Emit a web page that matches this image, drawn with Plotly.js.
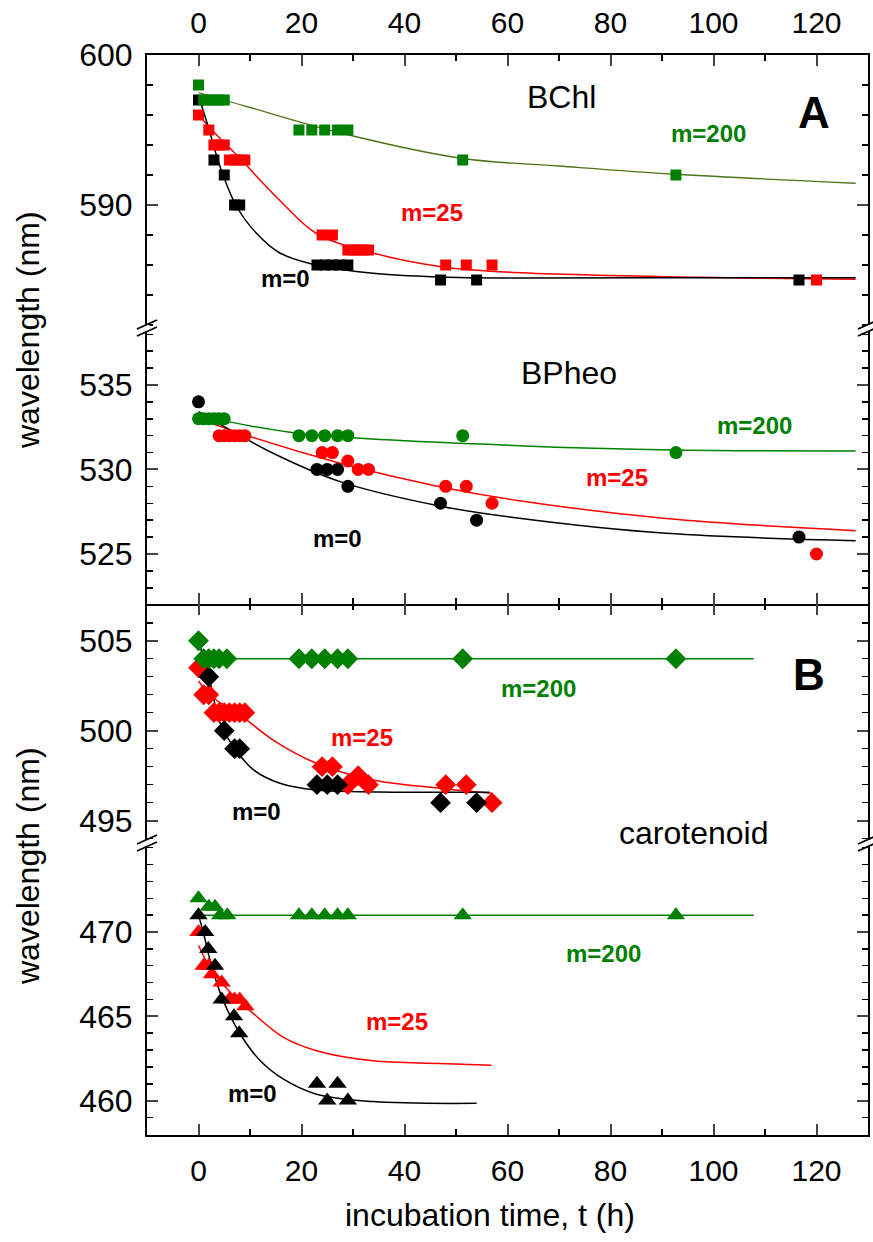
<!DOCTYPE html>
<html>
<head>
<meta charset="utf-8">
<script src="https://cdn.plot.ly/plotly-3.0.1.min.js"></script>
<style>html,body{margin:0;padding:0;background:#fff;}#chart{width:873px;height:1242px;}</style>
</head>
<body>
<div id="chart"></div>
<script>
// ---------- BChl (panel A, squares) ----------
const bchl_m0_t   = [0, 3, 5, 7, 8, 23, 24.5, 26, 27.5, 29, 47, 54, 116.6];
const bchl_m0_nm  = [597, 593, 592, 590, 590, 586, 586, 586, 586, 586, 585, 585, 585];
const bchl_m25_t  = [0, 2, 3, 4, 5, 6, 7, 8, 9, 24, 26, 29, 30, 31, 32, 33, 48, 52, 57, 120];
const bchl_m25_nm = [596, 595, 594, 594, 594, 593, 593, 593, 593, 588, 588, 587, 587, 587, 587, 587, 586, 586, 586, 585];
const bchl_m200_t = [0, 1, 2, 3, 4, 5, 19.5, 22, 24.5, 27, 29, 51.3, 92.7];
const bchl_m200_nm= [598, 597, 597, 597, 597, 597, 595, 595, 595, 595, 595, 593, 592];
// fitted curves
const bchl_fit0_t   = [0, 1.9, 4.2, 7.4, 11.3, 15.8, 22, 33.9, 46.8, 62.3, 90, 127.6];
const bchl_fit0_nm  = [597.3, 595.2, 592.55, 589.9, 588.1, 586.8, 586.07, 585.45, 585.2, 585.13, 585.15, 585.15];
const bchl_fit25_t  = [0, 4, 8.1, 11.3, 15.8, 22.9, 33.9, 46.8, 58.5, 97.2, 127.6];
const bchl_fit25_nm = [596, 594.5, 593.1, 591.9, 590.3, 588.1, 586.8, 585.9, 585.55, 585.18, 585.05];
const bchl_fit200_t = [0, 10, 28.8, 51.3, 70, 92.7, 127.6];
const bchl_fit200_nm= [597.5, 596.5, 594.7, 593.1, 592.6, 592.05, 591.45];

// ---------- BPheo (panel A, circles) ----------
const bph_m0_t   = [0, 23, 25, 27, 29, 47, 54, 116.6];
const bph_m0_nm  = [534, 530, 530, 530, 529, 528, 527, 526];
const bph_m25_t  = [4, 5, 6, 7, 8, 9, 24, 26, 29, 31, 33, 48, 52, 57, 120];
const bph_m25_nm = [532, 532, 532, 532, 532, 532, 531, 531, 530.5, 530, 530, 529, 529, 528, 525];
const bph_m200_t = [0, 1, 2, 3, 4, 5, 19.5, 22, 24.5, 27, 29, 51.3, 92.7];
const bph_m200_nm= [533, 533, 533, 533, 533, 533, 532, 532, 532, 532, 532, 532, 531];
const bph_fit0_t   = [0, 14.5, 27.5, 46.8, 62.3, 90.8, 127.6];
const bph_fit0_nm  = [533.42, 530.96, 529.28, 527.84, 527.11, 526.22, 525.79];
const bph_fit25_t  = [0, 8.1, 27.5, 46.8, 62.3, 90.8, 127.6];
const bph_fit25_nm = [533.03, 532.14, 530.37, 528.98, 528.15, 527.1, 526.38];
const bph_fit200_t = [0, 19.4, 62.3, 92.7, 127.6];
const bph_fit200_nm= [533.2, 532.14, 531.41, 531.15, 531.1];

// ---------- carotenoid (panel B, diamonds) ----------
const cd_m0_t   = [2, 5, 7, 8, 23, 25, 27, 47, 54];
const cd_m0_nm  = [503, 500, 499, 499, 497, 497, 497, 496, 496];
const cd_m25_t  = [0, 1, 2, 3, 4, 5, 6, 7, 8, 9, 24, 26, 29, 31, 33, 48, 52, 57];
const cd_m25_nm = [503.5, 502, 502, 501, 501, 501, 501, 501, 501, 501, 498, 498, 497, 497.5, 497, 497, 497, 496];
const cd_m200_t = [0, 1, 2, 3, 4, 5.5, 19.5, 22, 24.5, 27, 29, 51.3, 92.7];
const cd_m200_nm= [505, 504, 504, 504, 504, 504, 504, 504, 504, 504, 504, 504, 504];
const cd_fit0_t   = [0, 2.3, 4.2, 6.8, 10.7, 15.8, 22.9, 35, 56.5];
const cd_fit0_nm  = [505, 502.63, 500.41, 499.11, 497.82, 497.08, 496.7, 496.6, 496.58];
const cd_fit25_t  = [0, 2.6, 8.1, 14.5, 22.9, 33.9, 46.8, 56.9];
const cd_fit25_nm = [502.76, 501.89, 500.87, 499.48, 498.19, 497.26, 496.8, 496.52];
const cd_fit200_t = [0, 107.8];
const cd_fit200_nm= [504, 504];

// ---------- carotenoid (panel B, triangles) ----------
const ct_m0_t   = [0, 1.3, 1.9, 3.2, 4.5, 6.9, 7.9, 23, 25, 27, 29];
const ct_m0_nm  = [471, 470, 469, 468, 466, 465, 464, 461, 460, 461, 460];
const ct_m25_t  = [0, 1, 2, 2.6, 4.5, 6, 7, 8, 9.1];
const ct_m25_nm = [470, 468, 468, 467.5, 467, 466, 466, 466, 465.6];
const ct_m200_t = [0, 2, 3.2, 4.2, 5.6, 19.5, 22, 24.5, 27, 29, 51.3, 92.7];
const ct_m200_nm= [472, 471.5, 471.5, 471, 471, 471, 471, 471, 471, 471, 471, 471];
const ct_fit0_t   = [0, 1, 2.6, 4.8, 8.1, 12, 16.5, 22.9, 33.9, 54];
const ct_fit0_nm  = [471, 469.9, 467.92, 465.93, 463.95, 462.36, 461.27, 460.38, 459.94, 459.84];
const ct_fit25_t  = [0, 2.6, 5.5, 10, 16.5, 22.9, 33.9, 46.8, 56.9];
const ct_fit25_nm = [469.2, 467.7, 466.63, 465.34, 463.75, 462.96, 462.36, 462.2, 462.1];
const ct_fit200_t = [0, 107.8];
const ct_fit200_nm= [471, 471];

// tick labels
const xTickVals  = [0, 20, 40, 60, 80, 100, 120];
const yTicksBChl = [590, 600];
const yTicksBPh  = [525, 530, 535];
const yTicksCarD = [495, 500, 505];
const yTicksCarT = [460, 465, 470];

const GREEN = '#008000', RED = '#ff0000', BLACK = '#000000', OLIVE = '#4d7319';
const FONT = 'Liberation Sans, Arial, Helvetica, sans-serif';

function line(x, y, color, xa, ya, w) {
  return {x: x, y: y, mode: 'lines', type: 'scatter', xaxis: xa, yaxis: ya,
          line: {color: color, width: w || 1.5, shape: 'spline', smoothing: 1}, hoverinfo: 'skip', showlegend: false};
}
function pts(x, y, color, sym, size, xa, ya) {
  return {x: x, y: y, mode: 'markers', type: 'scatter', xaxis: xa, yaxis: ya,
          marker: {color: color, symbol: sym, size: size, line: {width: 0}}, showlegend: false, cliponaxis: false};
}

const traces = [
  line(bchl_fit200_t, bchl_fit200_nm, OLIVE, 'x', 'y', 1.3),
  line(bchl_fit25_t, bchl_fit25_nm, RED, 'x', 'y'),
  line(bchl_fit0_t, bchl_fit0_nm, BLACK, 'x', 'y'),
  pts(bchl_m0_t, bchl_m0_nm, BLACK, 'square', 11, 'x', 'y'),
  pts(bchl_m25_t, bchl_m25_nm, RED, 'square', 11, 'x', 'y'),
  pts(bchl_m200_t, bchl_m200_nm, GREEN, 'square', 11, 'x', 'y'),

  line(bph_fit200_t, bph_fit200_nm, GREEN, 'x2', 'y2'),
  line(bph_fit25_t, bph_fit25_nm, RED, 'x2', 'y2'),
  line(bph_fit0_t, bph_fit0_nm, BLACK, 'x2', 'y2'),
  pts(bph_m200_t, bph_m200_nm, GREEN, 'circle', 13, 'x2', 'y2'),
  pts(bph_m25_t, bph_m25_nm, RED, 'circle', 13, 'x2', 'y2'),
  pts(bph_m0_t, bph_m0_nm, BLACK, 'circle', 13, 'x2', 'y2'),

  line(cd_fit200_t, cd_fit200_nm, GREEN, 'x3', 'y3'),
  line(cd_fit25_t, cd_fit25_nm, RED, 'x3', 'y3'),
  line(cd_fit0_t, cd_fit0_nm, BLACK, 'x3', 'y3'),
  pts(cd_m25_t, cd_m25_nm, RED, 'diamond', 16, 'x3', 'y3'),
  pts(cd_m0_t, cd_m0_nm, BLACK, 'diamond', 16, 'x3', 'y3'),
  pts(cd_m200_t, cd_m200_nm, GREEN, 'diamond', 16, 'x3', 'y3'),

  line(ct_fit200_t, ct_fit200_nm, GREEN, 'x4', 'y4'),
  line(ct_fit25_t, ct_fit25_nm, RED, 'x4', 'y4'),
  line(ct_fit0_t, ct_fit0_nm, BLACK, 'x4', 'y4'),
  pts(ct_m25_t, ct_m25_nm, RED, 'triangle-up', 16, 'x4', 'y4'),
  pts(ct_m0_t, ct_m0_nm, BLACK, 'triangle-up', 16, 'x4', 'y4'),
  pts(ct_m200_t, ct_m200_nm, GREEN, 'triangle-up', 16, 'x4', 'y4'),
];

// plot area in pixels: x 147..868, y 55..1135
const L = 147, R = 868, T = 55, B = 1135;
const px2paperX = p => (p - L) / (R - L);
const px2paperY = p => (B - p) / (B - T);

const yBreakA = 328, yBreakB = 843, ySep = 603.5;

function xAxis(anchor, side, labels, showline) {
  return {
    anchor: anchor, side: side, domain: [0, 1], range: [-10, 130],
    tickmode: 'array', tickvals: xTickVals, ticks: 'inside', ticklen: 11, tickwidth: 2,
    minor: {ticks: 'inside', dtick: 10, tick0: 0, ticklen: 6, tickwidth: 1.5, tickcolor: '#000'},
    showticklabels: labels, tickfont: {family: FONT, size: 30, color: '#000'},
    ticklabelstandoff: 8,
    showline: showline, linewidth: 2, linecolor: '#000', mirror: false,
    showgrid: false, zeroline: false, fixedrange: true
  };
}
function yAxis(domain, range, tickvals, mdtick, anchor) {
  return {
    domain: domain, range: range, anchor: anchor,
    tickmode: 'array', tickvals: tickvals, ticks: 'inside', ticklen: 11, tickwidth: 2,
    minor: {ticks: 'inside', dtick: mdtick, tick0: 0, ticklen: 6, tickwidth: 1.5, tickcolor: '#000'},
    tickfont: {family: FONT, size: 32, color: '#000'}, ticklabelstandoff: 6,
    showline: true, linewidth: 2, linecolor: '#000', mirror: 'ticks',
    showgrid: false, zeroline: false, fixedrange: true
  };
}

const dA = px2paperY(yBreakA), dSep = px2paperY(ySep), dB = px2paperY(yBreakB);

function breakMarks(yc) {
  const s = [];
  [L, R].forEach(xc => {
    s.push({type: 'line', xref: 'paper', yref: 'paper', layer: 'above',
      x0: px2paperX(xc), x1: px2paperX(xc), y0: px2paperY(yc - 3), y1: px2paperY(yc + 3),
      line: {color: '#fff', width: 5}});
    [-3.5, 3.5].forEach(dy => {
      s.push({type: 'line', xref: 'paper', yref: 'paper', layer: 'above',
        x0: px2paperX(xc - 10), y0: px2paperY(yc + dy + 4.5),
        x1: px2paperX(xc + 10), y1: px2paperY(yc + dy - 4.5),
        line: {color: '#000', width: 1.8}});
    });
  });
  return s;
}

function ann(text, x, y, xr, yr, size, bold, color) {
  return {text: bold ? '<b>' + text + '</b>' : text, x: x, y: y, xref: xr, yref: yr,
    xanchor: 'center', yanchor: 'middle', showarrow: false,
    font: {family: FONT, size: size, color: color}};
}

const annotations = [
  ann('BChl', 70.5, 597.2, 'x', 'y', 32, false, BLACK),
  ann('m=200', 99, 594.8, 'x', 'y', 24, true, GREEN),
  ann('m=25', 45.3, 589.5, 'x', 'y', 24, true, RED),
  ann('m=0', 16.8, 585.07, 'x', 'y', 24, true, BLACK),
  ann('A', 119.5, 596.2, 'x', 'y', 44, true, BLACK),

  ann('BPheo', 72, 535.7, 'x2', 'y2', 32, false, BLACK),
  ann('m=200', 107.9, 532.63, 'x2', 'y2', 24, true, GREEN),
  ann('m=25', 81.2, 529.5, 'x2', 'y2', 24, true, RED),
  ann('m=0', 26.9, 525.9, 'x2', 'y2', 24, true, BLACK),

  ann('B', 118.5, 503.1, 'x3', 'y3', 44, true, BLACK),
  ann('m=200', 66, 502.37, 'x3', 'y3', 24, true, GREEN),
  ann('m=25', 31.7, 499.6, 'x3', 'y3', 24, true, RED),
  ann('m=0', 11.2, 495.49, 'x3', 'y3', 24, true, BLACK),
  ann('carotenoid', 96.1, 494.33, 'x3', 'y3', 32, false, BLACK),

  ann('m=200', 78.6, 468.73, 'x4', 'y4', 24, true, GREEN),
  ann('m=25', 38.5, 464.68, 'x4', 'y4', 24, true, RED),
  ann('m=0', 10.4, 460.4, 'x4', 'y4', 24, true, BLACK),

  {text: 'wavelength (nm)', x: px2paperX(28), y: px2paperY(330), xref: 'paper', yref: 'paper',
   xanchor: 'center', yanchor: 'middle', textangle: -90, showarrow: false,
   font: {family: FONT, size: 32, color: BLACK}},
  {text: 'wavelength (nm)', x: px2paperX(28), y: px2paperY(866), xref: 'paper', yref: 'paper',
   xanchor: 'center', yanchor: 'middle', textangle: -90, showarrow: false,
   font: {family: FONT, size: 32, color: BLACK}},
  {text: 'incubation time, t (h)', x: px2paperX(490), y: px2paperY(1215), xref: 'paper', yref: 'paper',
   xanchor: 'center', yanchor: 'middle', showarrow: false,
   font: {family: FONT, size: 32, color: BLACK}}
];

const layout = {
  width: 873, height: 1242,
  margin: {l: L, r: 873 - R, t: T, b: 1242 - B, pad: 0},
  paper_bgcolor: '#fff', plot_bgcolor: '#fff',
  showlegend: false,
  xaxis:  xAxis('y', 'top', true, true),
  xaxis2: xAxis('y2', 'bottom', false, true),
  xaxis3: xAxis('y3', 'top', false, false),
  xaxis4: xAxis('y4', 'bottom', true, true),
  yaxis:  yAxis([dA, 1], [581.8, 600], yTicksBChl, 2, 'x'),
  yaxis2: yAxis([dSep, dA], [522.07, 538.37], yTicksBPh, 1, 'x2'),
  yaxis3: yAxis([dB, dSep], [493.76, 507.07], yTicksCarD, 1, 'x3'),
  yaxis4: yAxis([0, dB], [457.96, 475.28], yTicksCarT, 1, 'x4'),
  annotations: annotations,
  shapes: [].concat(breakMarks(yBreakA), breakMarks(yBreakB))
};

Plotly.newPlot('chart', traces, layout, {staticPlot: true, displayModeBar: false});
</script>
</body>
</html>
